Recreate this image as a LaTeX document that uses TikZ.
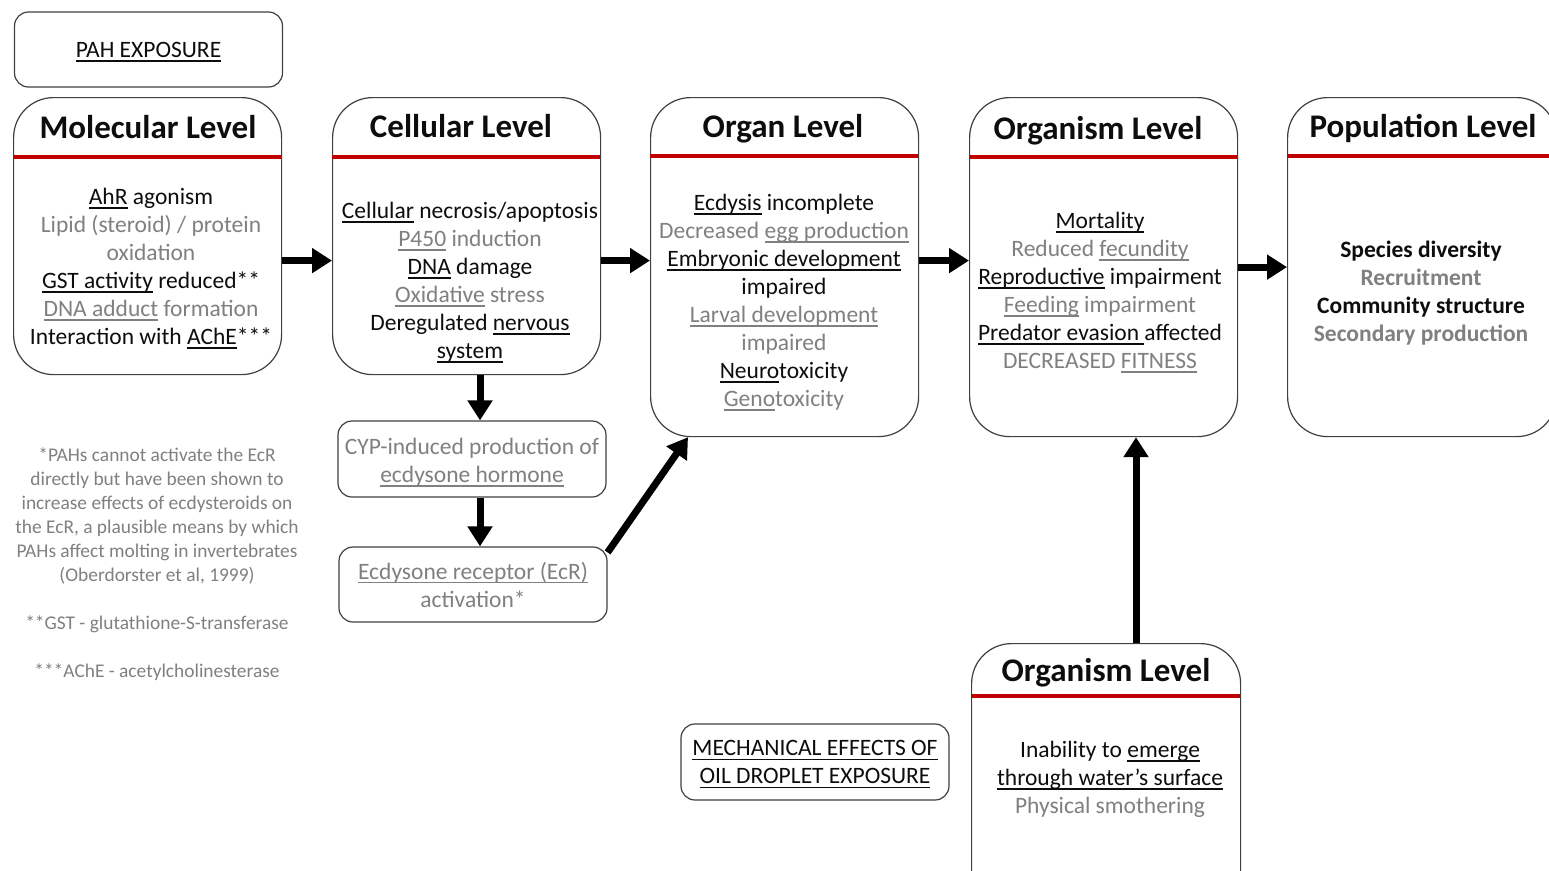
\documentclass[tikz,border=0pt]{standalone}
\usepackage{fontspec}
\setmainfont{Carlito}
\usetikzlibrary{arrows.meta}
\definecolor{txtgray}{RGB}{128,128,128}
\definecolor{txtblack}{RGB}{13,13,13}
\definecolor{lvred}{RGB}{192,0,0}
\definecolor{edgegray}{RGB}{64,64,64}
\newcommand\ulx[1]{\setbox0\hbox{#1}\rlap{\smash{\rule[-0.19em]{\wd0}{0.06em}}}\box0\relax}
\newcommand\gr[1]{\textcolor{txtgray}{#1}}
\tikzset{
  levelbox/.style={draw=edgegray, line width=1.2pt, rounded corners=40pt, fill=white, inner sep=0pt, anchor=north west},
  smallbox/.style={draw=edgegray, line width=1.2pt, rounded corners=14pt, inner sep=0pt, align=center,
    minimum width=268pt, minimum height=76pt, font=\fontsize{23.5}{28}\selectfont},
  leveltitle/.style={anchor=base, font=\fontsize{33}{38}\selectfont\bfseries, text=txtblack, inner sep=0pt},
  bodytext/.style={align=center, font=\fontsize{23.5}{28}\selectfont, text=txtblack, inner sep=0pt},
  redline/.style={draw=lvred, line width=4pt},
  flow/.style={line width=7pt, -{Triangle[width=24pt,length=20pt]}},
  note/.style={align=center, font=\fontsize{19.4}{24}\selectfont, text=txtgray, inner sep=0pt}
}
\begin{document}
\begin{tikzpicture}[x=1pt,y=-1pt]
\useasboundingbox (0,0) rectangle (1549,870);
\clip (0,0) rectangle (1549,870);
\fill[white] (0,0) rectangle (1549,870);

% PAH exposure
\node[smallbox, minimum height=75pt, text=txtblack] (pah) at (148.5,49.5) {\ulx{PAH EXPOSURE}};

% Molecular
\node[levelbox, minimum width=268pt, minimum height=277pt] (mol) at (13,97) {};
\draw[redline] (13,157) -- (281,157);
\node[leveltitle] (molT) at (148,138) {Molecular Level};
\node[bodytext] (molB) at (151,266) {\ulx{AhR} agonism\\
\gr{Lipid (steroid) / protein}\\
\gr{oxidation}\\
\ulx{GST activity} reduced**\\
\gr{\ulx{DNA adduct} formation}\\
Interaction with \ulx{AChE}***};

% Cellular
\node[levelbox, minimum width=268pt, minimum height=277pt] (cel) at (332,97) {};
\draw[redline] (332,157) -- (600,157);
\node[leveltitle] (celT) at (461,137) {Cellular Level};
\node[bodytext] (celB) at (470,282) {\ulx{Cellular} necrosis/apoptosis\\
\gr{\ulx{P450} induction}\\
\ulx{DNA} damage\\
\gr{\ulx{Oxidative} stress}\\
Deregulated \ulx{nervous}\\
\ulx{system}};

% Organ
\node[levelbox, minimum width=268pt, minimum height=339pt] (org) at (650,97) {};
\draw[redline] (650,156) -- (918,156);
\node[leveltitle] (orgT) at (783,137) {Organ Level};
\node[bodytext] (orgB) at (784,302) {\ulx{Ecdysis} incomplete\\
\gr{Decreased \ulx{egg production}}\\
\ulx{Embryonic development}\\
impaired\\
\gr{\ulx{Larval development}}\\
\gr{impaired}\\
\ulx{Neuro}toxicity\\
\gr{\ulx{Geno}toxicity}};

% Organism
\node[levelbox, minimum width=268pt, minimum height=339pt] (orgm) at (969,97) {};
\draw[redline] (969,157) -- (1237,157);
\node[leveltitle] (orgmT) at (1098,139) {Organism Level};
\node[bodytext] (orgmB) at (1100,290) {\ulx{Mortality}\\
\gr{Reduced \ulx{fecundity}}\\
\ulx{Reproductive} impairment\\
\gr{\ulx{Feeding} impairment}\\
\ulx{Predator evasion }affected\\
\gr{DECREASED \ulx{FITNESS}}};

% Population
\node[levelbox, minimum width=269pt, minimum height=339pt] (pop) at (1287,97) {};
\draw[redline] (1287,156) -- (1556,156);
\node[leveltitle] (popT) at (1423,137) {Population Level};
\node[bodytext, font=\fontsize{23.5}{28}\selectfont\bfseries] (popB) at (1421,293) {Species diversity\\
\gr{Recruitment}\\
Community structure\\
\gr{Secondary production}};

% Bottom organism
\node[levelbox, minimum width=269pt, minimum height=280pt] (orgb) at (971,643) {};
\draw[redline] (971,696) -- (1240,696);
\node[leveltitle] (orgbT) at (1106,681) {Organism Level};
\node[bodytext] (orgbB) at (1110,779) {Inability to \ulx{emerge}\\
\ulx{through water’s surface}\\
\gr{Physical smothering}};

% small boxes
\node[smallbox] (cyp) at (472,459) {};
\node[bodytext, text=txtgray] (cypT) at (472,462) {CYP-induced production of\\ \ulx{ecdysone hormone}};
\node[smallbox, minimum height=75pt, text=txtgray] (ecr) at (473,584.5) {\ulx{Ecdysone receptor (EcR)}\\ activation*};
\node[smallbox, text=txtblack] (mech) at (815,762) {\ulx{MECHANICAL EFFECTS OF}\\ \ulx{OIL DROPLET EXPOSURE}};

% footnotes
\node[note] (fn) at (157,564) {*PAHs cannot activate the EcR\\
directly but have been shown to\\
increase effects of ecdysteroids on\\
the EcR, a plausible means by which\\
PAHs affect molting in invertebrates\\
(Oberdorster et al, 1999)\\[24pt]
**GST - glutathione-S-transferase\\[24pt]
***AChE - acetylcholinesterase};

% arrows
\coordinate (cx) at (480,0);
\coordinate (ox) at (1136,0);
\draw[flow] ([yshift=-24.5pt]mol.east) -- ([yshift=-24.5pt]cel.west);
\draw[flow] ([yshift=-24.5pt]cel.east) -- ([yshift=6.5pt]org.west);
\draw[flow] ([yshift=6.5pt]org.east) -- ([yshift=6.5pt]orgm.west);
\draw[flow] (orgm.east) -- (pop.west);
\draw[flow] (cel.south -| cx) -- (cyp.north -| cx);
\draw[flow] (cyp.south -| cx) -- (ecr.north -| cx);
\draw[flow] ([yshift=-6pt]ecr.north east) -- ([xshift=38pt]org.south west);
\draw[flow] (orgb.north -| ox) -- (orgm.south -| ox);
\end{tikzpicture}
\end{document}
